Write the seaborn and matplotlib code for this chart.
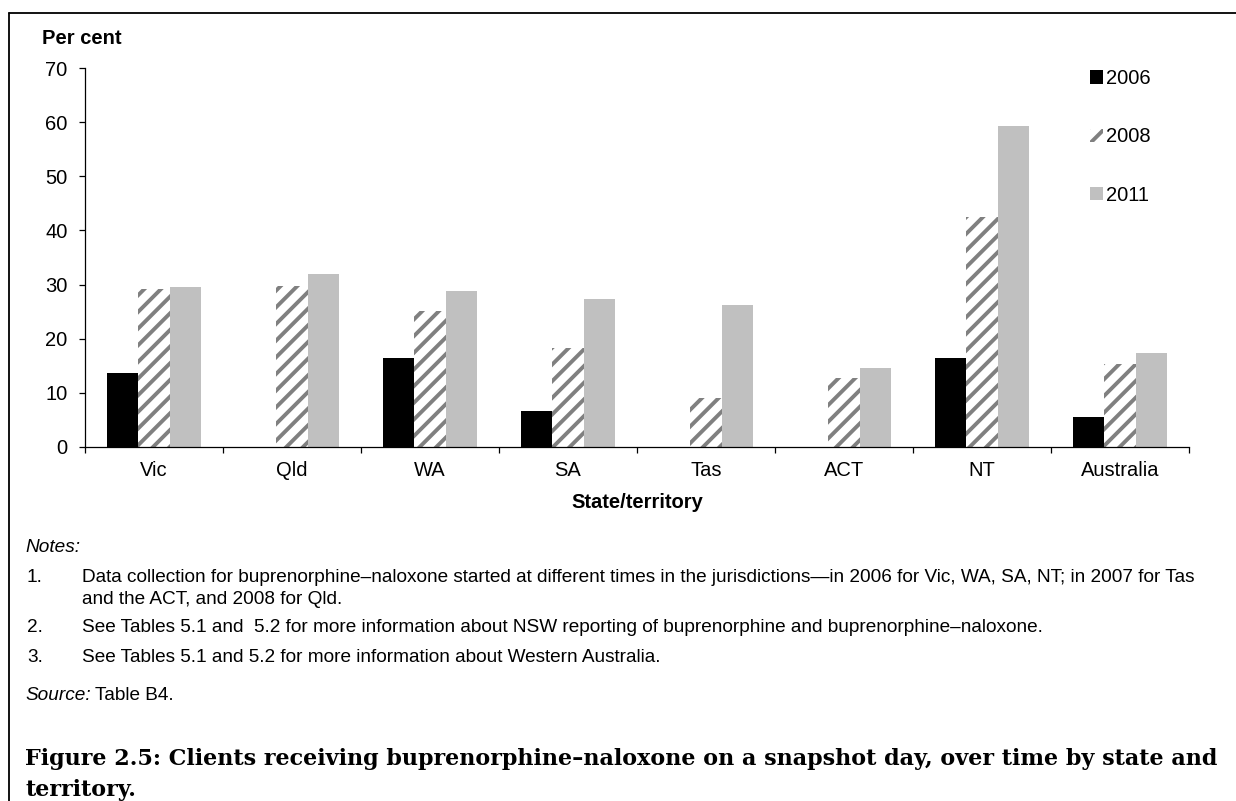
import numpy as np
import pandas as pd
import matplotlib
matplotlib.use("Agg")
import matplotlib.pyplot as plt
import matplotlib.patches as mpatches
from matplotlib.lines import Line2D
import seaborn as sns

states = ["Vic", "Qld", "WA", "SA", "Tas", "ACT", "NT", "Australia"]
years = ["2006", "2008", "2011"]
v2006 = [13.7, np.nan, 16.5, 6.6, np.nan, np.nan, 16.5, 5.6]
v2008 = [29.1, 29.8, 25.2, 18.2, 9.1, 12.7, 42.4, 15.3]
v2011 = [29.5, 32.0, 28.8, 27.4, 26.3, 14.6, 59.3, 17.4]
yticks = [0, 10, 20, 30, 40, 50, 60, 70]

sns.set_theme(style="white")
plt.rcParams["font.family"] = ["Liberation Sans", "DejaVu Sans"]
plt.rcParams["text.color"] = "black"
plt.rcParams["hatch.linewidth"] = 2.8

df = pd.DataFrame({
    "state": states * 3,
    "year": [years[0]] * 8 + [years[1]] * 8 + [years[2]] * 8,
    "value": v2006 + v2008 + v2011,
})

W, H = 1236, 801
fig = plt.figure(figsize=(W / 100, H / 100), dpi=100)
ax = fig.add_axes([85 / W, 1 - 447 / H, (1189 - 85) / W, (447 - 68) / H])

colors = {"2006": "#000000", "2008": "#ffffff", "2011": "#c0c0c0"}
sns.barplot(data=df, x="state", y="value", hue="year", order=states, hue_order=years,
            palette=colors, width=0.675, gap=0, saturation=1, ax=ax, legend=False,
            linewidth=0, edgecolor="none")

for cont, yr in zip(ax.containers, years):
    for bar in cont:
        if yr == "2008":
            bar.set_facecolor("white")
            bar.set_edgecolor("#808080")
            bar.set_hatch("//")
            bar.set_linewidth(0)
        else:
            bar.set_edgecolor("none")
            bar.set_linewidth(0)

tfs = 14.5
ax.set_ylim(0, 70)
ax.set_xlim(-0.5, len(states) - 0.5)
ax.set_yticks(yticks)
ax.set_yticklabels([str(t) for t in yticks], fontsize=tfs, color="black")
ax.set_xticks(range(len(states)))
ax.set_xticklabels(states, fontsize=tfs, color="black")
ax.set_xticks(np.arange(-0.5, len(states), 1), minor=True)
ax.tick_params(axis="x", which="major", length=0, pad=10)
ax.tick_params(axis="x", which="minor", length=4.5, width=0.9, color="black", direction="out", bottom=True)
ax.tick_params(axis="y", which="major", length=4.5, width=0.9, color="black", direction="out", left=True, pad=8)
for s in ["top", "right"]:
    ax.spines[s].set_visible(False)
for s in ["left", "bottom"]:
    ax.spines[s].set_color("black")
    ax.spines[s].set_linewidth(0.9)
ax.set_xlabel("")
ax.set_ylabel("")

fig.text(637 / W, 1 - 502 / H, "State/territory", ha="center", va="center",
         fontsize=tfs, fontweight="bold", color="black")
fig.text(42 / W, 1 - 38 / H, "Per cent", ha="left", va="center",
         fontsize=tfs, fontweight="bold", color="black")

handles = [
    mpatches.Patch(facecolor="#000000", edgecolor="none", label="2006"),
    mpatches.Patch(facecolor="white", edgecolor="#808080", hatch="//", linewidth=0, label="2008"),
    mpatches.Patch(facecolor="#c0c0c0", edgecolor="none", label="2011"),
]
leg = fig.legend(handles=handles, loc="upper left", bbox_to_anchor=(1080 / W, 1 - 59 / H),
                 frameon=False, fontsize=tfs, handlelength=0.65, handleheight=0.65,
                 handletextpad=0.15, labelspacing=1.95, borderpad=0)
for t in leg.get_texts():
    t.set_color("black")

nfs = 13.7
fig.text(25 / W, 1 - 547 / H, "Notes:", fontsize=nfs, style="italic", va="center")
notes = [
    ("1.", ["Data collection for buprenorphine\u2013naloxone started at different times in the jurisdictions\u2014in 2006 for Vic, WA, SA, NT; in 2007 for Tas",
            "and the ACT, and 2008 for Qld."], 577),
    ("2.", ["See Tables 5.1 and  5.2 for more information about NSW reporting of buprenorphine and buprenorphine\u2013naloxone."], 628),
    ("3.", ["See Tables 5.1 and 5.2 for more information about Western Australia."], 657),
]
for num, lines, y in notes:
    fig.text(27 / W, 1 - y / H, num, fontsize=nfs, va="center")
    for i, ln in enumerate(lines):
        fig.text(82 / W, 1 - (y + 22 * i) / H, ln, fontsize=nfs, va="center")

src = fig.text(25 / W, 1 - 696 / H, "Source:", fontsize=nfs, style="italic", va="center")
fig.canvas.draw()
ext = src.get_window_extent()
fig.text((ext.x1 + 4) / W, 1 - 696 / H, "Table B4.", fontsize=nfs, va="center")

ttl = 16
fig.text(25 / W, 1 - 759 / H,
         "Figure 2.5: Clients receiving buprenorphine\u2013naloxone on a snapshot day, over time by state and",
         fontsize=ttl, fontweight="bold", family=["DejaVu Serif"], va="center")
fig.text(25 / W, 1 - 790 / H, "territory.", fontsize=ttl, fontweight="bold",
         family=["DejaVu Serif"], va="center")

fig.add_artist(Line2D([9 / W, 9 / W], [0, 1 - 13 / H], transform=fig.transFigure,
                      color="black", linewidth=1.3))
fig.add_artist(Line2D([9 / W, 1], [1 - 13 / H, 1 - 13 / H], transform=fig.transFigure,
                      color="black", linewidth=1.3))

fig.savefig("out.png", dpi=100)
